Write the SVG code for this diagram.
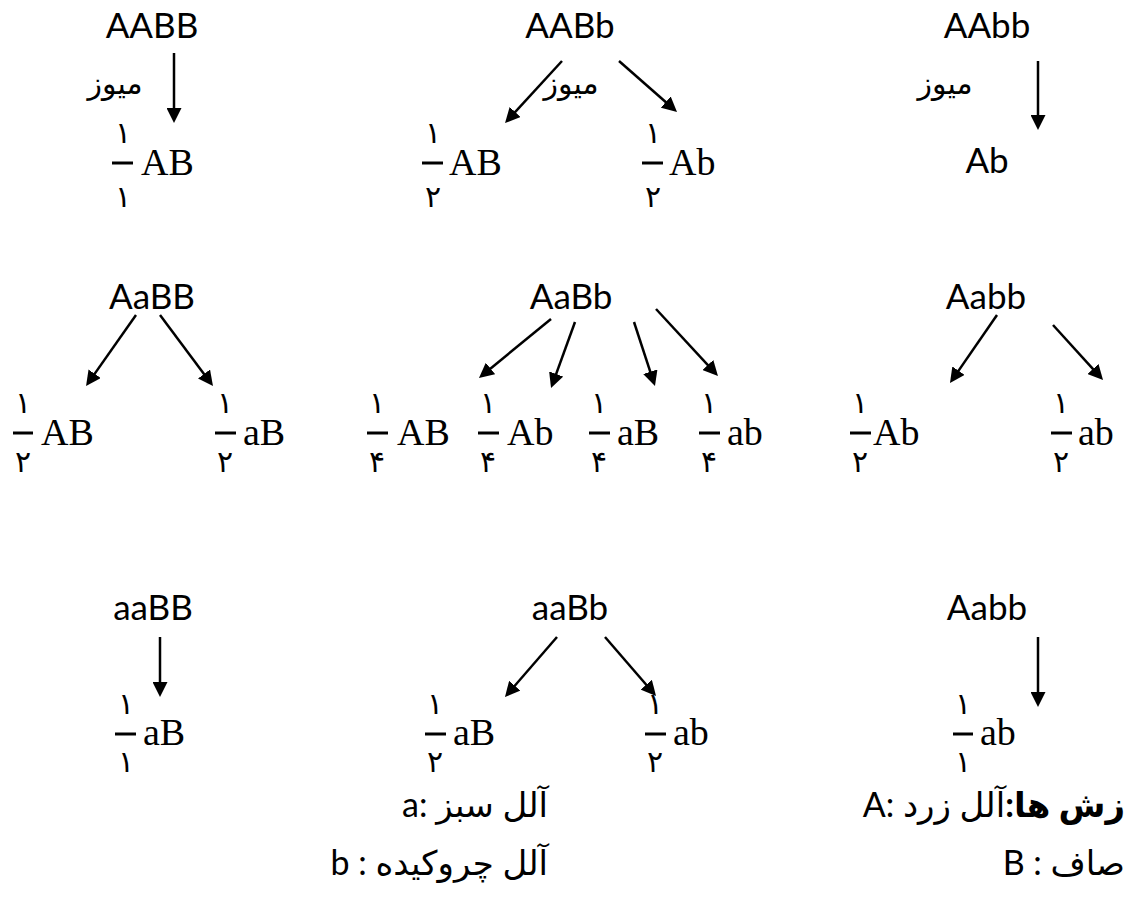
<svg xmlns="http://www.w3.org/2000/svg" width="1126" height="898" viewBox="0 0 1126 898">
<style>
.g{font-family:Lato,"Open Sans","DejaVu Sans",sans-serif;font-size:35px;fill:#000;text-anchor:middle}
.s{font-family:"Liberation Serif","DejaVu Serif",serif;font-size:38px;fill:#000}
.d{font-family:"DejaVu Sans",sans-serif;font-size:30px;fill:#000;text-anchor:middle}
.m{font-family:"DejaVu Sans",sans-serif;font-size:30px;fill:#000;text-anchor:middle}
.t{font-family:Lato,"DejaVu Sans",sans-serif;font-size:34px;fill:#000}
.bar{stroke:#000;stroke-width:3}
.arr{stroke:#000;stroke-width:2.5;fill:none;marker-end:url(#ah)}
</style>
<defs>
<marker id="ah" markerUnits="userSpaceOnUse" markerWidth="15" markerHeight="15" refX="9" refY="7.5" orient="auto">
<path d="M0,0 L15,7.5 L0,15 z" fill="#000"/>
</marker>
</defs>
<rect width="1126" height="898" fill="#fff"/>

<g id="connectors">
<line class="arr" x1="174" y1="53" x2="174" y2="117"/>
<line class="arr" x1="562" y1="61" x2="509.1" y2="118.6"/>
<line class="arr" x1="619" y1="61" x2="672.5" y2="108"/>
<line class="arr" x1="1038" y1="61" x2="1038" y2="124"/>
<line class="arr" x1="136" y1="315" x2="89.5" y2="381.1"/>
<line class="arr" x1="160" y1="315" x2="209.4" y2="381.2"/>
<line class="arr" x1="551" y1="319" x2="483.6" y2="374.2"/>
<line class="arr" x1="575" y1="322" x2="553.1" y2="382.4"/>
<line class="arr" x1="634" y1="322" x2="653.1" y2="380.3"/>
<line class="arr" x1="656" y1="309" x2="713.9" y2="371.6"/>
<line class="arr" x1="997" y1="315" x2="953.4" y2="378.1"/>
<line class="arr" x1="1053" y1="325" x2="1099" y2="375.6"/>
<line class="arr" x1="160" y1="637" x2="160" y2="691"/>
<line class="arr" x1="557" y1="637" x2="508.9" y2="692.5"/>
<line class="arr" x1="605" y1="637" x2="652.1" y2="691.5"/>
<line class="arr" x1="1038" y1="637" x2="1038" y2="701"/>
</g>

<g id="n-AABB"><text class="g" x="152" y="38">AABB</text></g>
<g id="n-AABb"><text class="g" x="570" y="38">AABb</text></g>
<g id="n-AAbb"><text class="g" x="987" y="38">AAbb</text></g>
<g id="lbl-meiosis">
<text class="m" x="115" y="94">میوز</text>
<text class="m" x="571" y="94">میوز</text>
<text class="m" x="945" y="94">میوز</text>
</g>
<g id="f-AB-1"><text class="d" x="123" y="143">۱</text><line class="bar" x1="112" y1="163" x2="133" y2="163"/><text class="d" x="123" y="207">۱</text><text class="s" x="141" y="175">AB</text></g>
<g id="f-AB-2"><text class="d" x="433" y="143">۱</text><line class="bar" x1="422" y1="163" x2="443" y2="163"/><text class="d" x="433" y="207">۲</text><text class="s" x="449" y="175">AB</text></g>
<g id="f-Ab-2"><text class="d" x="653" y="143">۱</text><line class="bar" x1="642" y1="163" x2="663" y2="163"/><text class="d" x="653" y="207">۲</text><text class="s" x="669" y="175">Ab</text></g>
<g id="n-Ab"><text class="g" x="987" y="173">Ab</text></g>

<g id="n-AaBB"><text class="g" x="152" y="309">AaBB</text></g>
<g id="n-AaBb"><text class="g" x="571" y="309">AaBb</text></g>
<g id="n-Aabb"><text class="g" x="986" y="309">Aabb</text></g>
<g id="f2-AB"><text class="d" x="23" y="413">۱</text><line class="bar" x1="13" y1="433" x2="33" y2="433"/><text class="d" x="23" y="472">۲</text><text class="s" x="41" y="445">AB</text></g>
<g id="f2-aB"><text class="d" x="225" y="413">۱</text><line class="bar" x1="215" y1="433" x2="236" y2="433"/><text class="d" x="225" y="472">۲</text><text class="s" x="243" y="445">aB</text></g>
<g id="f4-AB"><text class="d" x="377" y="413">۱</text><line class="bar" x1="367" y1="433" x2="388" y2="433"/><text class="d" x="377" y="472">۴</text><text class="s" x="397" y="445">AB</text></g>
<g id="f4-Ab"><text class="d" x="488" y="413">۱</text><line class="bar" x1="478" y1="433" x2="499" y2="433"/><text class="d" x="488" y="472">۴</text><text class="s" x="507" y="445">Ab</text></g>
<g id="f4-aB"><text class="d" x="599" y="413">۱</text><line class="bar" x1="589" y1="433" x2="610" y2="433"/><text class="d" x="599" y="472">۴</text><text class="s" x="617" y="445">aB</text></g>
<g id="f4-ab"><text class="d" x="709" y="413">۱</text><line class="bar" x1="699" y1="433" x2="720" y2="433"/><text class="d" x="709" y="472">۴</text><text class="s" x="727" y="445">ab</text></g>
<g id="f2-Ab"><text class="d" x="860" y="413">۱</text><line class="bar" x1="850" y1="433" x2="871" y2="433"/><text class="d" x="860" y="472">۲</text><text class="s" x="873" y="445">Ab</text></g>
<g id="f2-ab"><text class="d" x="1061" y="413">۱</text><line class="bar" x1="1051" y1="433" x2="1072" y2="433"/><text class="d" x="1061" y="472">۲</text><text class="s" x="1078" y="445">ab</text></g>

<g id="n-aaBB"><text class="g" x="153" y="620">aaBB</text></g>
<g id="n-aaBb"><text class="g" x="570" y="620">aaBb</text></g>
<g id="n-Aabb2"><text class="g" x="987" y="620">Aabb</text></g>
<g id="f3-aB1"><text class="d" x="126" y="714">۱</text><line class="bar" x1="115" y1="734" x2="136" y2="734"/><text class="d" x="126" y="772">۱</text><text class="s" x="143" y="745">aB</text></g>
<g id="f3-aB2"><text class="d" x="435" y="714">۱</text><line class="bar" x1="425" y1="734" x2="446" y2="734"/><text class="d" x="435" y="772">۲</text><text class="s" x="453" y="745">aB</text></g>
<g id="f3-ab2"><text class="d" x="655" y="714">۱</text><line class="bar" x1="645" y1="734" x2="666" y2="734"/><text class="d" x="655" y="772">۲</text><text class="s" x="673" y="745">ab</text></g>
<g id="f3-ab1"><text class="d" x="963" y="714">۱</text><line class="bar" x1="953" y1="734" x2="973" y2="734"/><text class="d" x="963" y="772">۱</text><text class="s" x="980" y="745">ab</text></g>

<g id="legend">
<text class="t" x="548" y="817" direction="rtl" text-anchor="start">آلل سبز :a</text>
<text class="t" x="548" y="875" direction="rtl" text-anchor="start">آلل چروکیده : b</text>
<text class="t" x="1125" y="817" direction="rtl" text-anchor="start"><tspan font-weight="bold">زش ها:</tspan>آلل زرد :A</text>
<text class="t" x="1125" y="875" direction="rtl" text-anchor="start">صاف : B</text>
</g>
</svg>
